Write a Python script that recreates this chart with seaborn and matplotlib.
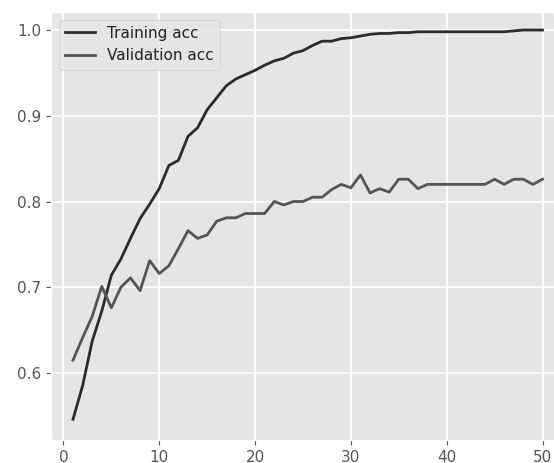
import numpy as np
import seaborn as sns
import matplotlib
matplotlib.use('Agg')
import matplotlib.pyplot as plt

# accuracy per epoch
epochs = list(range(1, 51))
train_acc = [0.546, 0.585, 0.637, 0.672, 0.714, 0.733, 0.757, 0.780, 0.797, 0.815,
             0.842, 0.848, 0.876, 0.886, 0.907, 0.921, 0.935, 0.943, 0.948, 0.953,
             0.959, 0.964, 0.967, 0.973, 0.976, 0.982, 0.987, 0.987, 0.990, 0.991,
             0.993, 0.995, 0.996, 0.996, 0.997, 0.997, 0.998, 0.998, 0.998, 0.998,
             0.998, 0.998, 0.998, 0.998, 0.998, 0.998, 0.999, 1.000, 1.000, 1.000]
val_acc = [0.615, 0.641, 0.666, 0.701, 0.676, 0.700, 0.711, 0.696, 0.731, 0.716,
           0.725, 0.745, 0.766, 0.757, 0.761, 0.777, 0.781, 0.781, 0.786, 0.786,
           0.786, 0.800, 0.796, 0.800, 0.800, 0.805, 0.805, 0.814, 0.820, 0.816,
           0.831, 0.810, 0.815, 0.811, 0.826, 0.826, 0.815, 0.820, 0.820, 0.820,
           0.820, 0.820, 0.820, 0.820, 0.826, 0.820, 0.826, 0.826, 0.820, 0.826]

plt.style.use('ggplot')
fig = plt.figure(figsize=(5.54, 4.63), dpi=100)
ax = fig.add_axes([0.092, 0.05, 0.908, 0.924])

sns.lineplot(x=epochs, y=train_acc, ax=ax, color='#2b2b2b', linewidth=2, label='Training acc')
sns.lineplot(x=epochs, y=val_acc, ax=ax, color='#555555', linewidth=2, label='Validation acc')

ax.set_xlim(-1.3, 51.2)
ax.set_ylim(0.522, 1.021)
ax.set_xticks([0, 10, 20, 30, 40, 50])
ax.set_yticks([0.6, 0.7, 0.8, 0.9, 1.0])
ax.tick_params(labelsize=11, colors='#555555')
ax.grid(True, color='white', linewidth=1.2)

leg = ax.legend(loc='upper left', fontsize=11, frameon=True)
for t in leg.get_texts():
    t.set_color('#222222')

fig.savefig('out.png', dpi=100)
